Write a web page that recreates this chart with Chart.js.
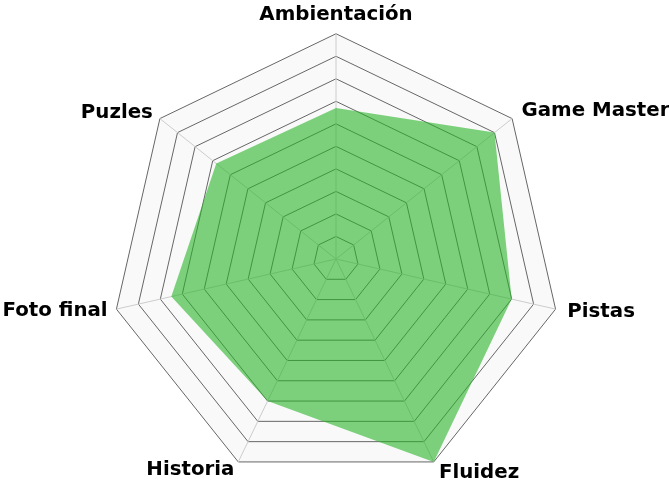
<!DOCTYPE html>
<html>
<head>
<meta charset="utf-8">
<script src="https://cdn.jsdelivr.net/npm/chart.js@4/dist/chart.umd.min.js"></script>
<style>
  html, body { margin: 0; padding: 0; background: #fff; }
  #wrap { width: 669px; height: 480px; }
</style>
</head>
<body>
<div id="wrap"><canvas id="radarChart"></canvas></div>
<script>
var categories = ['Ambientación', 'Game Master', 'Pistas', 'Fluidez', 'Historia', 'Foto final', 'Puzles'];
var scores = [6.7, 9, 8, 10, 7, 7.5, 6.8];
var scaleMax = 10;

// the original web is a bit bigger than Chart.js' own fit and its labels
// sit centred on the spoke ends, so rework the layout after the fit
function widenRadar(scale) {
    scale.drawingArea += 14;
    scale.yCenter += 8;
    (scale._pointLabelItems || []).forEach(function(item, i) {
        var w = item.right - item.left, h = item.bottom - item.top;
        var onRight = scale.getPointPosition(i, scale.drawingArea).x > scale.xCenter;
        var gap = i === 0 ? 7 : (onRight ? 12 : 9);
        var p = scale.getPointPosition(i, scale.drawingArea + gap);
        var top, left;
        if (i === 0) {
            item.textAlign = 'center';
            left = p.x - w / 2;
            top = p.y - h;
        } else if (onRight) {
            item.textAlign = 'left';
            left = p.x;
            top = p.y - h / 2;
        } else {
            item.textAlign = 'right';
            left = p.x - w;
            top = p.y - h / 2;
        }
        item.x = p.x;
        item.y = top;
        item.left = left; item.right = left + w;
        item.top = top; item.bottom = top + h;
        item.visible = true;
    });
}

document.addEventListener('DOMContentLoaded', function() {
    var ctx = document.getElementById('radarChart').getContext('2d');
    new Chart(ctx, {
        type: 'radar',
        data: {
            labels: categories,
            datasets: [{
                label: 'Puntuación',
                data: scores,
                backgroundColor: 'rgba(40, 180, 40, 0.6)',
                borderWidth: 0,
                pointRadius: 0,
                fill: true
            }]
        },
        options: {
            responsive: true,
            maintainAspectRatio: false,
            animation: false,
            plugins: {
                legend: { display: false },
                tooltip: { enabled: false }
            },
            scales: {
                r: {
                    min: 0,
                    max: scaleMax,
                    afterFit: widenRadar,
                    backgroundColor: 'rgba(0, 0, 0, 0.025)',
                    ticks: { display: false, stepSize: 1 },
                    grid: { color: '#666', lineWidth: 1 },
                    angleLines: { color: '#ccc' },
                    pointLabels: {
                        color: '#000',
                        font: { family: 'DejaVu Sans', size: 19.8, weight: 'bold' }
                    }
                }
            }
        }
    });
});
</script>
</body>
</html>
